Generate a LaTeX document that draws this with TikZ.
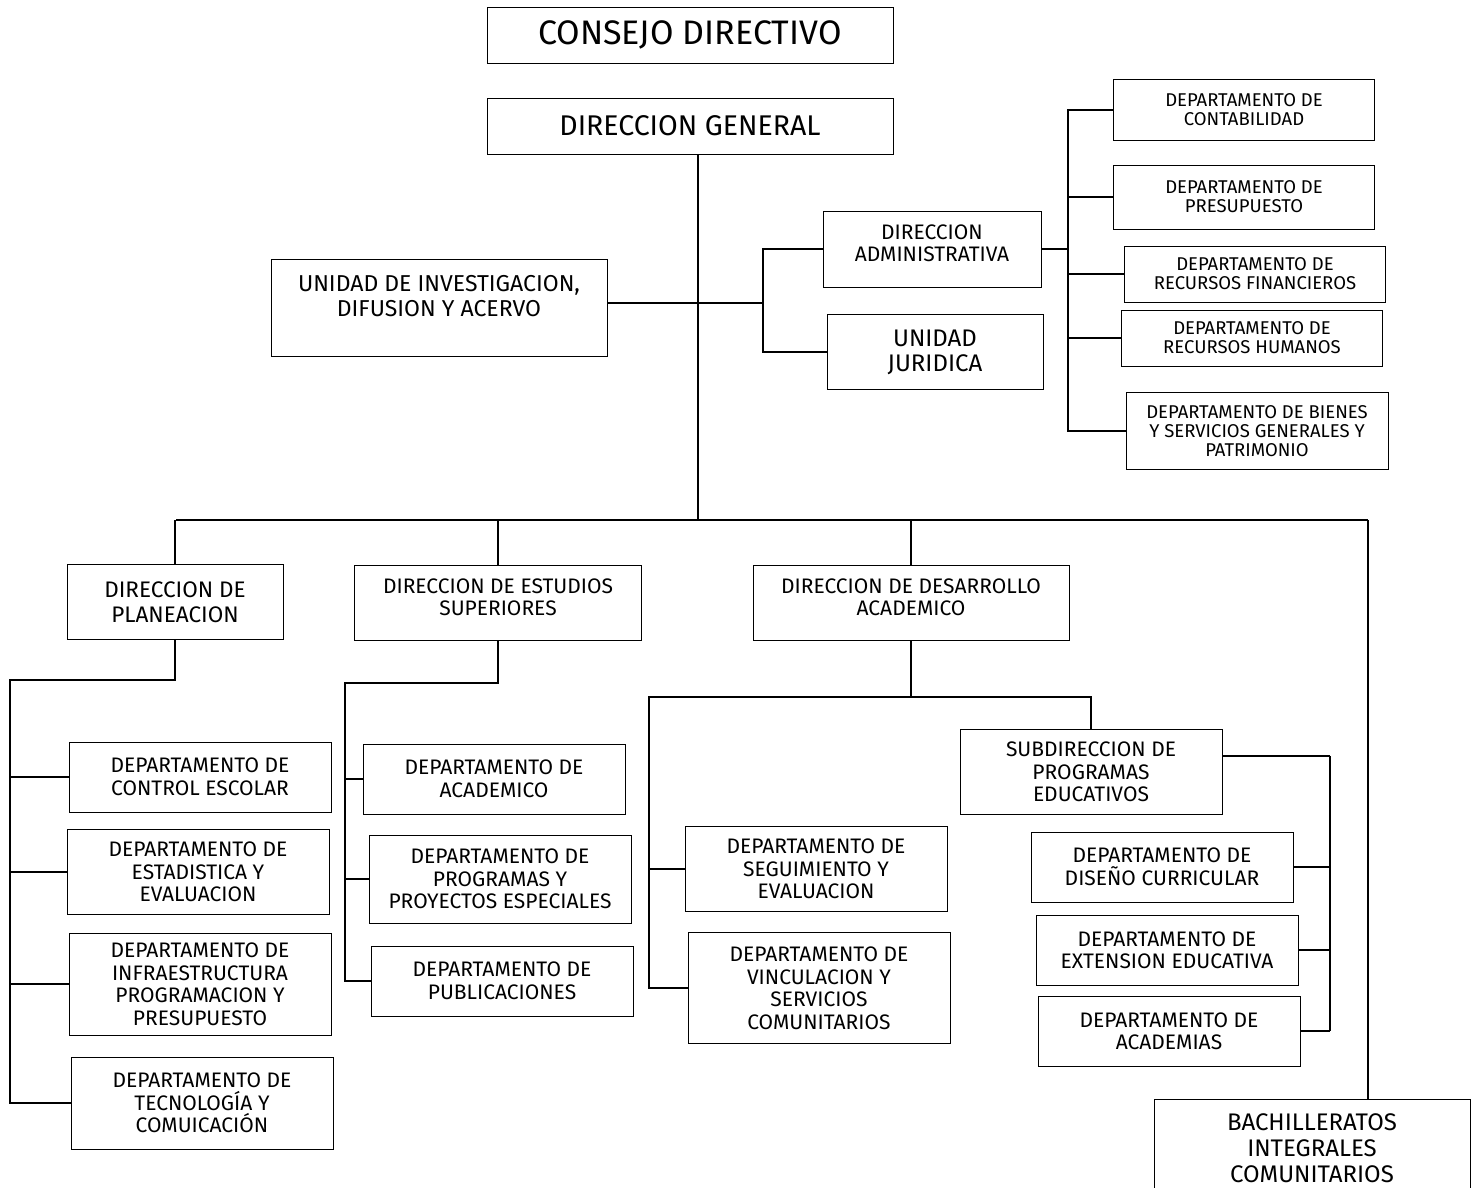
\documentclass[tikz,border=0pt]{standalone}
\usepackage{fontspec}
\setmainfont{Fira Sans}
\usepackage{tikz}

\begin{document}
\begin{tikzpicture}[x=1pt, y=-1pt]
        \tikzstyle{unit}=[rectangle, draw=black, line width=0.9pt, fill=white, inner sep=0pt, align=center]
        \tikzstyle{head}=[unit, font=\fontsize{28.5}{32}\selectfont]
        \tikzstyle{office}=[unit, font=\fontsize{23}{25}\selectfont]
        \tikzstyle{dept}=[unit, font=\fontsize{21}{22.5}\selectfont]
        \tikzstyle{subdept}=[unit, font=\fontsize{18.5}{19}\selectfont]
        \tikzstyle{link}=[line width=1.5pt]
        \useasboundingbox (0,0) rectangle (1473,1187);
        % top of the chart
        \begin{scope}
          \node [head, font=\fontsize{34}{36}\selectfont, minimum width=406pt, minimum height=56pt] (consejo) at (690,35) {CONSEJO DIRECTIVO};
          \node [head, minimum width=406pt, minimum height=56pt] (dirgen) at (690,126) {DIRECCION GENERAL};
          \node [office, text depth=24pt, minimum width=336pt, minimum height=97pt] (unidadinv) at (439,308) {UNIDAD DE INVESTIGACION,\\DIFUSION Y ACERVO};
          \node [dept, text depth=12pt, minimum width=218pt, minimum height=76pt] (diradm) at (932,249) {DIRECCION\\ADMINISTRATIVA};
          \node [office, font=\fontsize{24}{25}\selectfont, minimum width=216pt, minimum height=75pt] (unijur) at (935,352) {UNIDAD\\JURIDICA};
        \end{scope}
        % departamentos de la direccion administrativa
        \begin{scope}
          \node [subdept, minimum width=261pt, minimum height=61pt] (contab) at (1244,110) {DEPARTAMENTO DE\\CONTABILIDAD};
          \node [subdept, minimum width=261pt, minimum height=64pt] (presup) at (1244,197) {DEPARTAMENTO DE\\PRESUPUESTO};
          \node [subdept, minimum width=261pt, minimum height=56pt] (recfin) at (1255,274) {DEPARTAMENTO DE\\RECURSOS FINANCIEROS};
          \node [subdept, minimum width=261pt, minimum height=56pt] (rechum) at (1252,338) {DEPARTAMENTO DE\\RECURSOS HUMANOS};
          \node [subdept, minimum width=262pt, minimum height=77pt] (bienes) at (1257,431) {DEPARTAMENTO DE BIENES\\Y SERVICIOS GENERALES Y\\PATRIMONIO};
        \end{scope}
        % direcciones
        \begin{scope}
          \node [office, font=\fontsize{22.5}{25}\selectfont, minimum width=216pt, minimum height=75pt] (dirplan) at (175,602) {DIRECCION DE\\PLANEACION};
          \node [dept, text depth=12pt, minimum width=287pt, minimum height=75pt] (direst) at (498,603) {DIRECCION DE ESTUDIOS\\SUPERIORES};
          \node [dept, text depth=12pt, minimum width=316pt, minimum height=75pt] (dirdes) at (911,603) {DIRECCION DE DESARROLLO\\ACADEMICO};
          \node [office, font=\fontsize{24}{26}\selectfont, minimum width=316pt, minimum height=98pt] (bachi) at (1312,1148) {BACHILLERATOS\\INTEGRALES\\COMUNITARIOS};
        \end{scope}
        % departamentos
        \begin{scope}
          \node [dept, minimum width=262pt, minimum height=70pt] (controlesc) at (200,777) {DEPARTAMENTO DE\\CONTROL ESCOLAR};
          \node [dept, minimum width=262pt, minimum height=85pt] (estad) at (198,872) {DEPARTAMENTO DE\\ESTADISTICA Y\\EVALUACION};
          \node [dept, minimum width=262pt, minimum height=102pt] (infra) at (200,984) {DEPARTAMENTO DE\\INFRAESTRUCTURA\\PROGRAMACION Y\\PRESUPUESTO};
          \node [dept, minimum width=262pt, minimum height=92pt] (tecno) at (202,1103) {DEPARTAMENTO DE\\TECNOLOGÍA Y\\COMUICACIÓN};
          \node [dept, minimum width=262pt, minimum height=70pt] (academico) at (494,779) {DEPARTAMENTO DE\\ACADEMICO};
          \node [dept, minimum width=262pt, minimum height=88pt] (progproy) at (500,879) {DEPARTAMENTO DE\\PROGRAMAS Y\\PROYECTOS ESPECIALES};
          \node [dept, minimum width=262pt, minimum height=70pt] (public) at (502,981) {DEPARTAMENTO DE\\PUBLICACIONES};
          \node [dept, minimum width=262pt, minimum height=85pt] (seguim) at (816,869) {DEPARTAMENTO DE\\SEGUIMIENTO Y\\EVALUACION};
          \node [dept, minimum width=262pt, minimum height=111pt] (vincul) at (819,988) {DEPARTAMENTO DE\\VINCULACION Y\\SERVICIOS\\COMUNITARIOS};
          \node [dept, minimum width=262pt, minimum height=85pt] (subdir) at (1091,772) {SUBDIRECCION DE\\PROGRAMAS\\EDUCATIVOS};
          \node [dept, minimum width=262pt, minimum height=70pt] (disen) at (1162,867) {DEPARTAMENTO DE\\DISEÑO CURRICULAR};
          \node [dept, minimum width=262pt, minimum height=70pt] (extens) at (1167,950) {DEPARTAMENTO DE\\EXTENSION EDUCATIVA};
          \node [dept, minimum width=262pt, minimum height=70pt] (academias) at (1169,1031) {DEPARTAMENTO DE\\ACADEMIAS};
        \end{scope}
        % junctions
        \coordinate (spine) at (698,520);
        \coordinate (busL) at (176,520);
        \coordinate (busR) at (1368,520);
        \coordinate (admfork) at (763,303);
        \coordinate (finfork) at (1068,249);
        \coordinate (planfork) at (10,680);
        \coordinate (estfork) at (345,683);
        \coordinate (desfork) at (649,697);
        \coordinate (subfork) at (1330,756);
        % connectors
        \draw [link] (dirgen.south -| spine) -- (spine);
        \draw [link] (busL) -- (busR);
        \draw [link] (unidadinv.east) ++(0,-5) -- (admfork);
        \draw [link] (diradm.west) -| (admfork) |- (unijur.west);
        \draw [link] (diradm.east) -- (finfork);
        \draw [link] (contab.west) -| (finfork |- bienes.west) -- (bienes.west);
        \draw [link] (presup.west) -- (presup.west -| finfork);
        \draw [link] (recfin.west) -- (recfin.west -| finfork);
        \draw [link] (rechum.west) -- (rechum.west -| finfork);
        \draw [link] (dirplan.north) -- (dirplan.north |- busL);
        \draw [link] (direst.north) -- (direst.north |- busL);
        \draw [link] (dirdes.north) -- (dirdes.north |- busL);
        \draw [link] (busR) -- (busR |- bachi.north);
        \draw [link] (dirplan.south) |- (planfork) -- (planfork |- tecno.west) -- (tecno.west);
        \draw [link] (controlesc.west) -- (controlesc.west -| planfork);
        \draw [link] (estad.west) -- (estad.west -| planfork);
        \draw [link] (infra.west) -- (infra.west -| planfork);
        \draw [link] (direst.south) |- (estfork) -- (estfork |- public.west) -- (public.west);
        \draw [link] (academico.west) -- (academico.west -| estfork);
        \draw [link] (progproy.west) -- (progproy.west -| estfork);
        \draw [link] (dirdes.south) |- (desfork) -- (desfork |- vincul.west) -- (vincul.west);
        \draw [link] (dirdes.south |- desfork) -| (subdir.north);
        \draw [link] (seguim.west) -- (seguim.west -| desfork);
        \draw [link] (subdir.7) -- (subdir.7 -| subfork);
        \draw [link] (subfork |- subdir.7) -- (subfork |- academias.east);
        \draw [link] (disen.east) -- (disen.east -| subfork);
        \draw [link] (extens.east) -- (extens.east -| subfork);
        \draw [link] (academias.east) -- (academias.east -| subfork);
      \end{tikzpicture}
\end{document}
